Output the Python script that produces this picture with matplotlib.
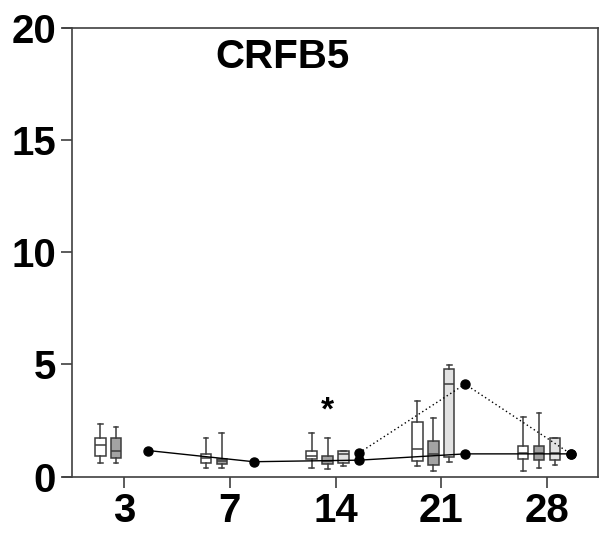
import matplotlib
matplotlib.use('Agg')
import matplotlib.pyplot as plt
import numpy as np

plt.rcParams['font.family'] = ['Liberation Sans', 'DejaVu Sans']
plt.rcParams['font.weight'] = 'bold'

# days on the x axis
days = ['3', '7', '14', '21', '28']

# box stats per group: whisker low, q1, median, q3, whisker high (None = no box)
white_box = [(0.61, 0.91, 1.40, 1.74, 2.36),
             (0.39, 0.59, 0.81, 1.00, 1.74),
             (0.38, 0.76, 0.93, 1.16, 1.96),
             (0.48, 0.69, 1.24, 2.41, 3.36),
             (0.23, 0.79, 1.07, 1.37, 2.64)]
dark_box = [(0.60, 0.81, 1.16, 1.70, 2.19),
            (0.36, 0.56, 0.70, 0.78, 1.92),
            (0.32, 0.54, 0.70, 0.93, 1.73),
            (0.26, 0.50, 1.00, 1.58, 2.61),
            (0.38, 0.72, 1.07, 1.37, 2.85)]
light_box = [None,
             None,
             (0.47, 0.59, 1.00, 1.16, 1.16),
             (0.66, 0.85, 4.14, 4.78, 4.99),
             (0.50, 0.72, 1.04, 1.74, 1.74)]

# the two mean lines
solid_vals = [1.16, 0.66, 0.73, 1.01, 1.01]
dotted_days = [2, 3, 4]
dotted_vals = [1.06, 4.12, 1.01]

fig = plt.figure(figsize=(6.04, 5.35), dpi=100)
ax = fig.add_axes([0.1192, 0.1093, 0.8708, 0.8384])

x = np.arange(len(days))
groups = [(white_box, -0.225, 'white'), (dark_box, -0.075, '#a3a3a3'), (light_box, 0.075, '#e2e2e2')]
edge = '#3c3c3c'
for data, off, col in groups:
    stats, pos = [], []
    for i, d in enumerate(data):
        if d is None:
            continue
        lo, q1, med, q3, hi = d
        stats.append({'whislo': lo, 'q1': q1, 'med': med, 'q3': q3, 'whishi': hi, 'fliers': []})
        pos.append(x[i] + off)
    ax.bxp(stats, positions=pos, widths=0.1, patch_artist=True, showfliers=False,
           capwidths=0.045, manage_ticks=False,
           boxprops=dict(facecolor=col, edgecolor=edge, linewidth=1.1),
           medianprops=dict(color=edge, linewidth=1.1),
           whiskerprops=dict(color=edge, linewidth=1.1),
           capprops=dict(color=edge, linewidth=1.1))

ax.plot(x + 0.225, solid_vals, color='black', linewidth=1, marker='o', markersize=6.5, zorder=5)
ax.plot(np.array(dotted_days) + 0.225, dotted_vals, color='black', linewidth=1,
        linestyle=(0, (1, 2)), marker='o', markersize=6.5, zorder=5)

ax.text(2 - 0.075, 2.9, '*', ha='center', va='center', fontsize=24, fontweight='bold')
ax.text(0.40, 0.935, 'CRFB5', transform=ax.transAxes, ha='center', va='center',
        fontsize=29, fontweight='bold')

xlo, xhi = -0.492, 4.482
ax.set_xlim(xlo, xhi)
ax.set_ylim(0, 20)
ax.set_xticks(x)
ax.set_xticklabels(days)
ax.set_yticks([0, 5, 10, 15, 20])
ax.tick_params(axis='both', labelsize=29, length=8, width=1.2, color='#404040', direction='out')
for lab in ax.get_xticklabels() + ax.get_yticklabels():
    lab.set_fontweight('bold')
for s in ax.spines.values():
    s.set_color('#404040')
    s.set_linewidth(1.2)
# top and bottom lines run a little past the left axis, as in the original
ax.spines['bottom'].set_bounds(xlo - 0.085, xhi)
ax.spines['top'].set_bounds(xlo - 0.085, xhi)

fig.savefig('out.png', dpi=100)
